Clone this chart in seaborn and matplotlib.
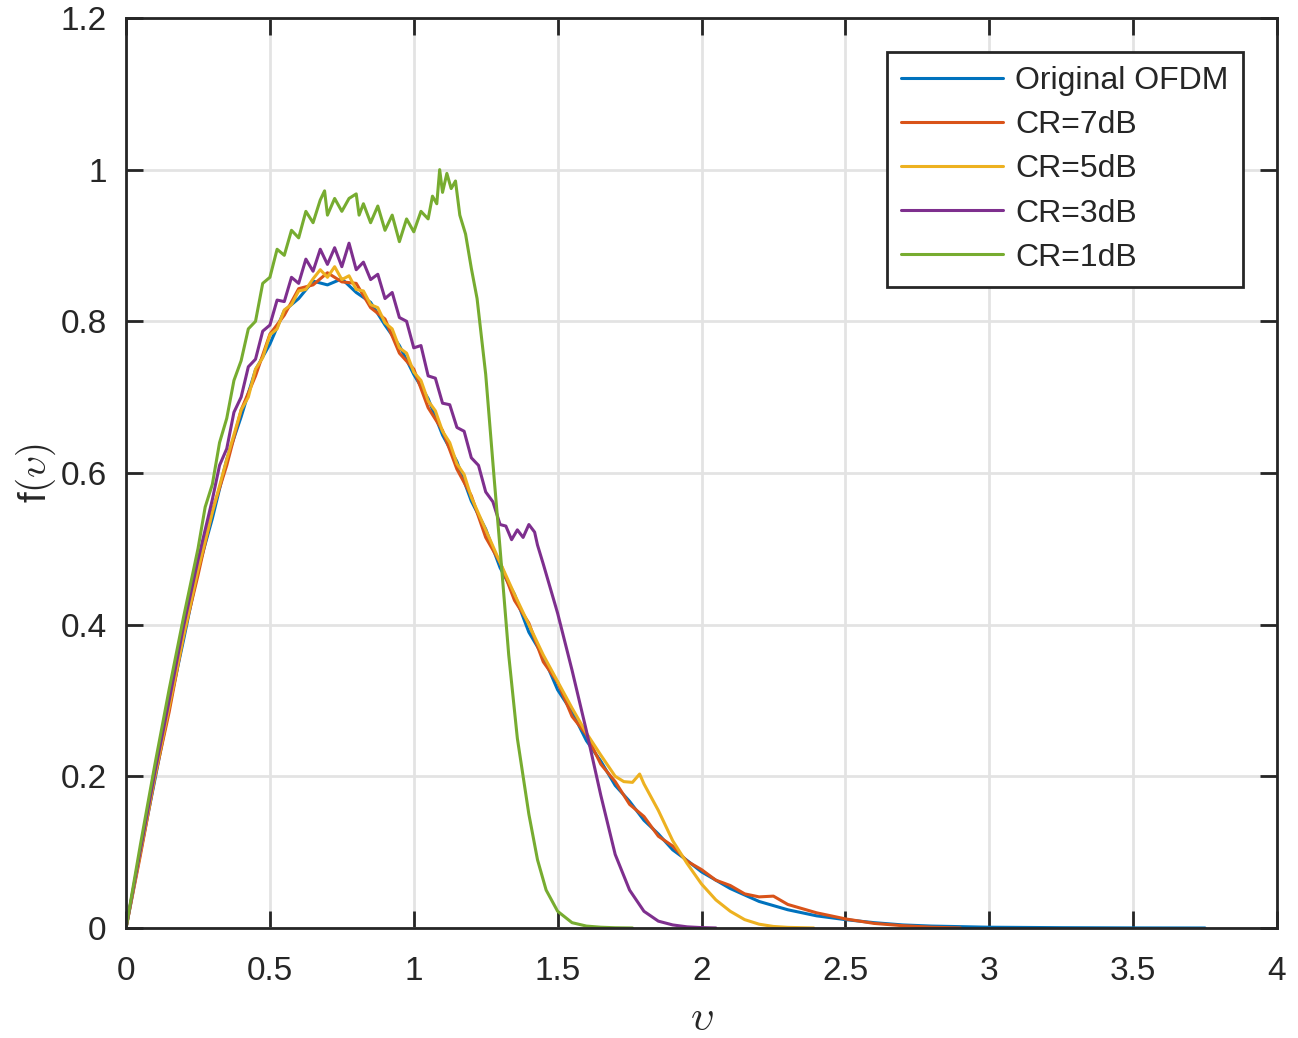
import numpy as np
import pandas as pd
import seaborn as sns
import matplotlib
matplotlib.use('Agg')
import matplotlib.pyplot as plt

# curves, (v, f(v)) per series
labels = ['Original OFDM', 'CR=7dB', 'CR=5dB', 'CR=3dB', 'CR=1dB']
colors = ['#0072BD', '#D95319', '#EDB120', '#7E2F8E', '#77AC30']

v_orig = [0, 0.05, 0.1, 0.15, 0.2, 0.25, 0.3, 0.35, 0.4, 0.45, 0.5, 0.55, 0.6, 0.65, 0.7, 0.75,
          0.8, 0.85, 0.9, 0.95, 1.0, 1.05, 1.1, 1.15, 1.2, 1.25, 1.3, 1.35, 1.4, 1.45, 1.5, 1.55,
          1.6, 1.65, 1.7, 1.75, 1.8, 1.85, 1.9, 1.95, 2.0, 2.1, 2.2, 2.3, 2.4, 2.5, 2.6, 2.7,
          2.8, 3.0, 3.25, 3.5, 3.75]
f_orig = [0, 0.10, 0.195, 0.292, 0.38, 0.472, 0.54, 0.618, 0.674, 0.736, 0.77, 0.814, 0.83, 0.853, 0.848, 0.856,
          0.838, 0.825, 0.795, 0.768, 0.73, 0.698, 0.65, 0.615, 0.563, 0.526, 0.475, 0.44, 0.39, 0.358, 0.314, 0.285,
          0.247, 0.22, 0.188, 0.167, 0.142, 0.124, 0.103, 0.089, 0.074, 0.052, 0.035, 0.024, 0.016, 0.011, 0.007, 0.004,
          0.0025, 0.001, 0.0004, 0.0001, 0]

v_cr7 = [0, 0.05, 0.1, 0.15, 0.2, 0.25, 0.3, 0.35, 0.4, 0.45, 0.5, 0.55, 0.6, 0.65, 0.7, 0.75,
         0.8, 0.85, 0.9, 0.95, 1.0, 1.05, 1.1, 1.15, 1.2, 1.25, 1.3, 1.35, 1.4, 1.45, 1.5, 1.55,
         1.6, 1.65, 1.7, 1.75, 1.8, 1.85, 1.9, 1.95, 2.0, 2.05, 2.1, 2.15, 2.2, 2.25, 2.3, 2.4,
         2.5, 2.6, 2.7, 2.8, 2.9]
f_cr7 = [0, 0.096, 0.198, 0.285, 0.386, 0.465, 0.55, 0.61, 0.683, 0.728, 0.783, 0.808, 0.843, 0.848, 0.864, 0.852,
         0.85, 0.818, 0.803, 0.758, 0.737, 0.686, 0.656, 0.605, 0.57, 0.515, 0.482, 0.432, 0.402, 0.351, 0.324, 0.279,
         0.255, 0.216, 0.193, 0.163, 0.147, 0.121, 0.108, 0.088, 0.077, 0.063, 0.056, 0.045, 0.041, 0.042, 0.031, 0.02,
         0.012, 0.006, 0.003, 0.001, 0]

v_cr5 = [0, 0.05, 0.1, 0.15, 0.2, 0.25, 0.3, 0.35, 0.4, 0.425, 0.45, 0.475, 0.5, 0.525, 0.55, 0.575,
         0.6, 0.625, 0.65, 0.675, 0.7, 0.725, 0.75, 0.775, 0.8, 0.825, 0.85, 0.875, 0.9, 0.925, 0.95, 0.975,
         1.0, 1.025, 1.05, 1.075, 1.1, 1.125, 1.15, 1.175, 1.2, 1.25, 1.3, 1.35, 1.4, 1.45, 1.5, 1.55,
         1.6, 1.65, 1.7, 1.73, 1.76, 1.785, 1.8, 1.85, 1.9, 1.95, 2.0, 2.05, 2.1, 2.15, 2.2, 2.25,
         2.3, 2.39]
f_cr5 = [0, 0.10, 0.2, 0.292, 0.385, 0.472, 0.548, 0.618, 0.683, 0.70, 0.737, 0.752, 0.782, 0.79, 0.815, 0.822,
         0.84, 0.842, 0.856, 0.868, 0.858, 0.872, 0.855, 0.86, 0.842, 0.84, 0.822, 0.818, 0.798, 0.79, 0.765, 0.758,
         0.733, 0.722, 0.695, 0.682, 0.655, 0.64, 0.612, 0.598, 0.568, 0.525, 0.482, 0.44, 0.4, 0.36, 0.325, 0.29,
         0.257, 0.228, 0.2, 0.193, 0.192, 0.203, 0.19, 0.155, 0.115, 0.085, 0.058, 0.037, 0.022, 0.011, 0.005, 0.002,
         0.0008, 0]

v_cr3 = [0, 0.05, 0.1, 0.15, 0.2, 0.25, 0.3, 0.325, 0.35, 0.375, 0.4, 0.425, 0.45, 0.475, 0.5, 0.525,
         0.55, 0.575, 0.6, 0.625, 0.65, 0.675, 0.7, 0.725, 0.75, 0.775, 0.8, 0.825, 0.85, 0.875, 0.9, 0.925,
         0.95, 0.975, 1.0, 1.025, 1.05, 1.075, 1.1, 1.125, 1.15, 1.175, 1.2, 1.225, 1.25, 1.275, 1.3, 1.32,
         1.34, 1.36, 1.38, 1.4, 1.42, 1.43, 1.45, 1.5, 1.55, 1.6, 1.65, 1.7, 1.75, 1.8, 1.85, 1.9,
         1.95, 2.0, 2.05]
f_cr3 = [0, 0.103, 0.205, 0.3, 0.398, 0.485, 0.565, 0.61, 0.632, 0.68, 0.70, 0.74, 0.75, 0.787, 0.795, 0.828,
         0.826, 0.858, 0.85, 0.882, 0.866, 0.895, 0.875, 0.897, 0.872, 0.903, 0.868, 0.878, 0.855, 0.862, 0.83, 0.838,
         0.805, 0.80, 0.765, 0.768, 0.728, 0.725, 0.692, 0.69, 0.66, 0.655, 0.62, 0.61, 0.575, 0.562, 0.532, 0.53,
         0.512, 0.525, 0.515, 0.532, 0.522, 0.505, 0.48, 0.415, 0.34, 0.26, 0.175, 0.097, 0.05, 0.022, 0.009, 0.004,
         0.0015, 0.0005, 0]

v_cr1 = [0, 0.05, 0.1, 0.15, 0.2, 0.25, 0.275, 0.3, 0.325, 0.35, 0.375, 0.4, 0.425, 0.45, 0.475, 0.5,
         0.525, 0.55, 0.575, 0.6, 0.625, 0.65, 0.675, 0.69, 0.7, 0.725, 0.75, 0.775, 0.8, 0.81, 0.825, 0.85,
         0.875, 0.9, 0.925, 0.95, 0.975, 1.0, 1.025, 1.05, 1.065, 1.08, 1.09, 1.1, 1.115, 1.13, 1.145, 1.16,
         1.18, 1.2, 1.22, 1.25, 1.28, 1.3, 1.33, 1.36, 1.4, 1.43, 1.46, 1.5, 1.55, 1.6, 1.65, 1.7,
         1.76]
f_cr1 = [0, 0.11, 0.215, 0.315, 0.41, 0.50, 0.555, 0.585, 0.64, 0.672, 0.722, 0.748, 0.79, 0.80, 0.85, 0.858,
         0.895, 0.887, 0.92, 0.91, 0.945, 0.93, 0.96, 0.972, 0.94, 0.962, 0.945, 0.962, 0.968, 0.94, 0.955, 0.93,
         0.952, 0.92, 0.94, 0.905, 0.935, 0.918, 0.945, 0.935, 0.965, 0.955, 1.0, 0.97, 0.995, 0.975, 0.985, 0.94,
         0.915, 0.87, 0.83, 0.73, 0.59, 0.50, 0.36, 0.25, 0.15, 0.09, 0.05, 0.022, 0.007, 0.0025, 0.001, 0.0003,
         0]

series = [(v_orig, f_orig), (v_cr7, f_cr7), (v_cr5, f_cr5), (v_cr3, f_cr3), (v_cr1, f_cr1)]
frames = []
for lab, (v, f) in zip(labels, series):
    frames.append(pd.DataFrame({'v': v, 'f': f, 'curve': lab}))
df = pd.concat(frames, ignore_index=True)

sns.set_style('ticks')
plt.rcParams['font.family'] = ['Liberation Sans', 'DejaVu Sans']
plt.rcParams['mathtext.fontset'] = 'cm'

fig = plt.figure(figsize=(12.98, 10.38), dpi=100)
ax = fig.add_axes([0.0971, 0.106, 0.8867, 0.8767])

sns.lineplot(data=df, x='v', y='f', hue='curve', hue_order=labels, palette=colors,
             estimator=None, sort=False, linewidth=2.2, ax=ax, legend=False)

ax.set_xlim(0, 4)
ax.set_ylim(0, 1.2)
ax.set_xticks(np.arange(0, 4.01, 0.5))
ax.set_xticklabels(['0', '0.5', '1', '1.5', '2', '2.5', '3', '3.5', '4'])
ax.set_yticks(np.arange(0, 1.21, 0.2))
ax.set_yticklabels(['0', '0.2', '0.4', '0.6', '0.8', '1', '1.2'])
ax.grid(True, color='#e3e3e3', linewidth=2)
ax.set_axisbelow(True)
for s in ax.spines.values():
    s.set_visible(True)
    s.set_color('#262626')
    s.set_linewidth(2)
ax.tick_params(direction='in', length=12, width=2, colors='#262626', labelsize=24,
               top=True, right=True)
ax.tick_params(axis='x', pad=20)
ax.tick_params(axis='y', pad=14)
ax.set_xlabel(r'$\upsilon$', fontsize=30, color='#262626', labelpad=9)
ax.set_ylabel(r'f$(\upsilon)$', fontsize=28, color='#262626', labelpad=2)

handles = [plt.Line2D([], [], color=c, linewidth=2.2) for c in colors]
leg = ax.legend(handles, labels, loc='upper right', bbox_to_anchor=(0.9705, 0.9626),
                fontsize=23, frameon=True, fancybox=False, handlelength=3.2,
                handletextpad=0.38, labelspacing=0.44, borderpad=0.45, borderaxespad=0)
leg.get_frame().set_edgecolor('#262626')
leg.get_frame().set_linewidth(2)
leg.get_frame().set_alpha(1)

fig.savefig('out.png', dpi=100)
